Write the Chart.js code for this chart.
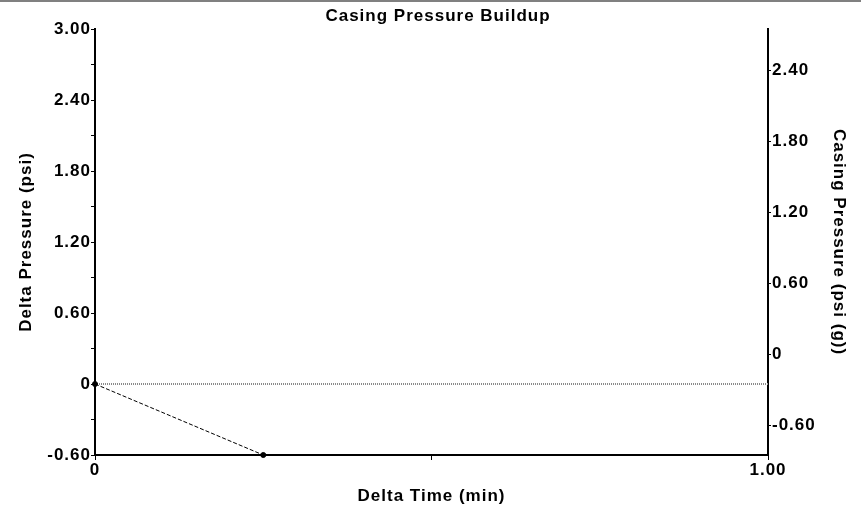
<!DOCTYPE html>
<html><head><meta charset="utf-8">
<script src="https://cdn.jsdelivr.net/npm/chart.js@4/dist/chart.umd.min.js"></script>
<style>html,body{margin:0;padding:0;background:#fff;}#wrap{width:861px;height:514px;position:relative;}</style>
</head><body><div id="wrap"><canvas id="c" width="861" height="514"></canvas></div>
<script>
const chartTitle = 'Casing Pressure Buildup';
const xAxisTitle = 'Delta Time (min)';
const leftAxisTitle = 'Delta Pressure (psi)';
const rightAxisTitle = 'Casing Pressure (psi (g))';

const deltaTime = [0, 0.25];
const deltaPressure = [0, -0.6];
const baselineTime = [0, 1];
const baselineValue = [0, 0];

const xTickValues = [0, 0.5, 1];
const xTickLabels = ['0', '', '1.00'];
const leftTickValues = [-0.6, -0.3, 0, 0.3, 0.6, 0.9, 1.2, 1.5, 1.8, 2.1, 2.4, 2.7, 3.0];
const leftTickLabels = ['-0.60', '', '0', '', '0.60', '', '1.20', '', '1.80', '', '2.40', '', '3.00'];
const rightTickValues = [-0.6, 0, 0.6, 1.2, 1.8, 2.4];
const rightTickLabels = ['-0.60', '0', '0.60', '1.20', '1.80', '2.40'];

const FONT = "'Liberation Sans', Arial, sans-serif";
const font = {family: FONT, size: 17, weight: 'bold'};

function fixedTicks(values) {
  return function (scale) { scale.ticks = values.map(v => ({value: v})); };
}
function labelFrom(values, labels) {
  return function (value) {
    const i = values.findIndex(v => Math.abs(v - value) < 1e-9);
    return i >= 0 ? labels[i] : '';
  };
}

const decor = {
  id: 'decor',
  beforeUpdate(chart) { chart.ctx.letterSpacing = '1px'; },
  beforeDraw(chart) {
    const ctx = chart.ctx;
    ctx.letterSpacing = '1px';
    ctx.save();
    ctx.fillStyle = '#808080';
    ctx.fillRect(0, 0, chart.width, 2);
    ctx.restore();
  },
  afterDraw(chart) {
    const ctx = chart.ctx;
    ctx.save();
    ctx.letterSpacing = '1px';
    ctx.font = 'bold 17px ' + FONT;
    ctx.fillStyle = '#000';
    ctx.textAlign = 'center';
    ctx.textBaseline = 'alphabetic';
    ctx.fillText(chartTitle, 438, 21);
    ctx.restore();
  }
};

new Chart(document.getElementById('c'), {
  type: 'scatter',
  data: {
    datasets: [
      {
        label: 'baseline',
        data: baselineTime.map((x, i) => ({x, y: baselineValue[i]})),
        showLine: true,
        borderColor: '#8a8a8a',
        borderWidth: 2,
        borderDash: [1, 1],
        pointRadius: 0,
        yAxisID: 'y',
        order: 2
      },
      {
        label: 'Delta Pressure',
        data: deltaTime.map((x, i) => ({x, y: deltaPressure[i]})),
        showLine: true,
        borderColor: '#000',
        borderWidth: 1,
        borderDash: [4, 2],
        pointRadius: 2.5,
        pointBackgroundColor: '#000',
        pointBorderColor: '#000',
        pointBorderWidth: 1,
        clip: false,
        yAxisID: 'y',
        order: 1
      }
    ]
  },
  options: {
    responsive: false,
    animation: false,
    devicePixelRatio: 1,
    layout: {padding: {top: 29, left: 0, right: 0, bottom: 0}},
    plugins: {legend: {display: false}, tooltip: {enabled: false}, title: {display: false}},
    scales: {
      x: {
        type: 'linear', position: 'bottom', min: 0, max: 1,
        afterBuildTicks: fixedTicks(xTickValues),
        afterFit(s) { s.height = 59; s.paddingLeft = 0; s.paddingRight = 0; },
        grid: {drawOnChartArea: false, drawTicks: true, tickLength: 5, color: '#000', lineWidth: 1},
        border: {display: true, color: '#000', width: 2},
        ticks: {font, color: '#000', padding: 0, maxRotation: 0, autoSkip: false,
          callback: labelFrom(xTickValues, xTickLabels)},
        title: {display: true, text: xAxisTitle, font, color: '#000', padding: {top: 0, bottom: 7}}
      },
      y: {
        type: 'linear', position: 'left', min: -0.6, max: 3.0,
        afterBuildTicks: fixedTicks(leftTickValues),
        afterFit(s) { s.width = 95; s.paddingTop = 0; s.paddingBottom = 0; },
        grid: {drawOnChartArea: false, drawTicks: true, tickLength: 4, color: '#000', lineWidth: 1},
        border: {display: true, color: '#000', width: 2},
        ticks: {font, color: '#000', padding: 0, autoSkip: false,
          callback: labelFrom(leftTickValues, leftTickLabels)},
        title: {display: true, text: leftAxisTitle, font, color: '#000', padding: {top: 16, bottom: 0}}
      },
      y2: {
        type: 'linear', position: 'right', min: -0.85, max: 2.75,
        afterBuildTicks: fixedTicks(rightTickValues),
        afterFit(s) { s.width = 93; s.paddingTop = 0; s.paddingBottom = 0; },
        grid: {drawOnChartArea: false, drawTicks: true, tickLength: 3, color: '#000', lineWidth: 1},
        border: {display: true, color: '#000', width: 2},
        ticks: {font, color: '#000', padding: 1, autoSkip: false,
          callback: labelFrom(rightTickValues, rightTickLabels)},
        title: {display: true, text: rightAxisTitle, font, color: '#000', padding: {top: 12, bottom: 0}}
      }
    }
  },
  plugins: [decor]
});
</script></body></html>
